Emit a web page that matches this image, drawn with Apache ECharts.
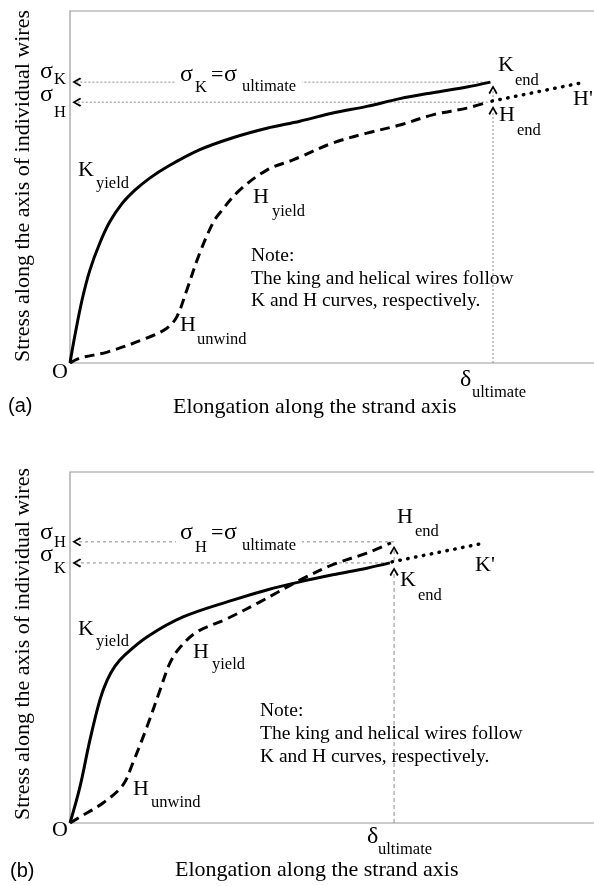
<!DOCTYPE html>
<html><head><meta charset="utf-8">
<script src="https://cdn.jsdelivr.net/npm/echarts@6/dist/echarts.min.js"></script>
<style>html,body{margin:0;padding:0;background:#fff}#c{width:594px;height:886px}</style>
</head><body><div id="c"></div>
<script>
// ---------- Panel (a) data (arbitrary units, x: elongation, y: stress) ----------
const kCurveA = [[0,0],[0.96,8.0],[2.3,17.9],[3.8,26.4],[5.7,34.1],[7.6,40.1],[9.9,45.2],[12.4,49.1],[15.3,52.6],[18.5,55.7],[24.8,60.6],[31.1,64.0],[37.6,66.7],[43.9,68.7],[50.2,71.0],[56.7,72.9],[63.0,75.1],[69.3,76.8],[75.8,78.4],[80.3,79.8]];
const hCurveA = [[0,0],[1.9,1.4],[7.1,3.1],[14.7,7.1],[18.5,9.9],[20.4,13.1],[22.3,20.7],[24.8,31.3],[27.3,39.8],[28.6,42.6],[32.4,49.1],[37.6,54.8],[42.6,57.7],[43.9,58.5],[50.2,62.5],[56.7,65.3],[63.0,67.6],[69.3,70.5],[75.8,72.4],[79.8,74.1]];
const hPrimeA = [[80.6,74.4],[98.4,79.8]];
// ---------- Panel (b) data ----------
const kCurveB = [[0,0],[1.9,10.3],[3.8,23.6],[5.7,35.0],[7.1,40.7],[8.6,44.7],[10.5,47.9],[14.7,53.0],[21.6,58.7],[31.1,63.5],[37.6,66.4],[43.9,68.7],[50.2,70.7],[56.7,72.6],[61.1,74.1]];
const hCurveB = [[0,0],[1.9,1.7],[6.3,5.7],[10.1,10.8],[12.0,17.1],[14.7,27.4],[17.2,37.9],[19.1,45.6],[21.0,50.0],[24.2,54.4],[30.0,58.2],[36.3,63.0],[39.5,65.6],[43.9,69.2],[50.2,73.6],[56.7,76.9],[61.3,79.8]];
const kPrimeB = [[61.5,74.4],[78.3,79.5]];
// levels / ultimate elongation
const sigmaA = {K: 79.8, H: 74.1};
const deltaUltA = 80.8;
const sigmaB = {H: 80.1, K: 74.1};
const deltaUltB = 61.9;

const SERIF = '"Liberation Serif", "Times New Roman", serif';
const SANS = '"Liberation Sans", Arial, sans-serif';
const ARROW_L = 'path://M0,5 L8.5,0 L10,1.6 L3.6,5 L10,8.4 L8.5,10 Z';
const ARROW_U = 'path://M5,0 L10,8.5 L8.4,10 L5,3.6 L1.6,10 L0,8.5 Z';

function curve(data, gi, type, width) {
  return {type:'line', xAxisIndex:gi, yAxisIndex:gi, data:data, showSymbol:false, symbol:'none',
    smooth:0.35, silent:true, animation:false, z:3,
    lineStyle:{color:'#000', width:width||3, type:type||'solid', cap:'butt'}};
}
function dotted(data, gi) {
  return {type:'line', xAxisIndex:gi, yAxisIndex:gi, data:data, showSymbol:false, symbol:'none',
    silent:true, animation:false, z:3,
    lineStyle:{color:'#000', width:3.5, type:[0.5,7.5], cap:'round'}};
}
function guide(gi, p0, p1, arrow, dash) {
  return {type:'line', xAxisIndex:gi, yAxisIndex:gi, silent:true, animation:false, showSymbol:true, symbol:'none', z:2,
    data:[{value:p0, symbol:'none'}, {value:p1, symbol:arrow, symbolSize:[9,9],
      itemStyle:{color:'#000', borderWidth:0}}],
    lineStyle:{color:'#8a8a8a', width:1, type:dash||[2,2]}};
}
function txt(x, base, s, size, fam) {
  return {type:'text', x:x, y:base - 0.34*size, z:100, silent:true,
    style:{text:s, font:size+'px '+(fam||SERIF), fill:'#000', textAlign:'left', textVerticalAlign:'middle', align:'left', verticalAlign:'middle'}};
}
function rect(x,y,w,h){ return {type:'rect', z:99, silent:true, shape:{x:x,y:y,width:w,height:h}, style:{fill:'#fff'}}; }

const M = 22, G = 24, S = 16.5, N = 19.5;
const graphics = [
  // ---- panel a ----
  rect(176,64,126,32),
  txt(40,80,'σ',G), txt(54,85,'K',S),
  txt(40,103,'σ',G), txt(54,118,'H',S),
  txt(180,83,'σ',G), txt(195,93,'K',S), txt(211,83,'=',M), txt(224,83,'σ',G), txt(242,92,'ultimate',S),
  txt(498,73,'K',M), txt(515,86,'end',S),
  txt(499,123,'H',M), txt(517,136,'end',S),
  txt(573,107,"H'",M),
  txt(78,178,'K',M), txt(96,189,'yield',S),
  txt(253,205,'H',M), txt(272,217,'yield',S),
  txt(180,333,'H',M), txt(197,345,'unwind',S),
  txt(52,380,'O',M),
  txt(8,413,'(a)',20,SANS),
  txt(173,415,'Elongation along the strand axis',M),
  txt(460,388,'δ',G), txt(472,398,'ultimate',S),
  txt(251,263,'Note:',N), txt(251,285.5,'The king and helical wires follow',N), txt(251,308,'K and H curves, respectively.',N),
  {type:'text', x:23, y:186, rotation:Math.PI/2, z:100, silent:true,
   style:{text:'Stress along the axis of individual wires', font:M+'px '+SERIF, fill:'#000', textAlign:'center', textVerticalAlign:'middle', align:'center', verticalAlign:'middle'}},
  // ---- panel b ----
  rect(176,522,126,33),
  txt(40,541,'σ',G), txt(54,548,'H',S),
  txt(40,563,'σ',G), txt(54,574,'K',S),
  txt(180,541,'σ',G), txt(195,553,'H',S), txt(211,541,'=',M), txt(224,541,'σ',G), txt(242,551,'ultimate',S),
  txt(397,525,'H',M), txt(415,537,'end',S),
  txt(400,588,'K',M), txt(418,601,'end',S),
  txt(475,573,"K'",M),
  txt(78,637,'K',M), txt(96,647,'yield',S),
  txt(193,660,'H',M), txt(212,670,'yield',S),
  txt(133,797,'H',M), txt(151,808,'unwind',S),
  txt(52,838,'O',M),
  txt(10,878,'(b)',20,SANS),
  txt(175,878,'Elongation along the strand axis',M),
  txt(367,845,'δ',G), txt(378,855,'ultimate',S),
  txt(260,718,'Note:',N), txt(260,741,'The king and helical wires follow',N), txt(260,764,'K and H curves, respectively.',N),
  {type:'text', x:23, y:644, rotation:Math.PI/2, z:100, silent:true,
   style:{text:'Stress along the axis of individual wires', font:M+'px '+SERIF, fill:'#000', textAlign:'center', textVerticalAlign:'middle', align:'center', verticalAlign:'middle'}}
];

const axisX = gi => ({type:'value', gridIndex:gi, min:0, max:102, show:false});
const axisY = gi => ({type:'value', gridIndex:gi, min:0, max:100, show:false});
const lastX = a => a[a.length-1][0];

const option = {
  animation:false,
  backgroundColor:'#fff',
  grid:[
    {left:70, top:11, width:534, height:352, outerBoundsMode:'none', containLabel:false, show:true, borderColor:'#9a9a9a', borderWidth:1.2, backgroundColor:'transparent'},
    {left:70, top:472, width:534, height:351, outerBoundsMode:'none', containLabel:false, show:true, borderColor:'#9a9a9a', borderWidth:1.2, backgroundColor:'transparent'}
  ],
  xAxis:[axisX(0), axisX(1)],
  yAxis:[axisY(0), axisY(1)],
  series:[
    // panel a guides
    guide(0,[lastX(kCurveA),sigmaA.K],[1.3,sigmaA.K],ARROW_L),
    guide(0,[lastX(hCurveA),sigmaA.H],[1.3,sigmaA.H],ARROW_L),
    guide(0,[deltaUltA,0],[deltaUltA,71.7],ARROW_U),
    guide(0,[deltaUltA,74.4],[deltaUltA,77.6],ARROW_U),
    curve(kCurveA,0,'solid',3),
    curve(hCurveA,0,[10,6],3),
    dotted(hPrimeA,0),
    // panel b guides
    guide(1,[lastX(hCurveB)+0.6,sigmaB.H],[1.3,sigmaB.H],ARROW_L,[3,3]),
    guide(1,[lastX(kCurveB),sigmaB.K],[1.3,sigmaB.K],ARROW_L,[3,3]),
    guide(1,[deltaUltB,0],[deltaUltB,71.6],ARROW_U,[4,3]),
    guide(1,[deltaUltB,74.6],[deltaUltB,77.7],ARROW_U,[4,3]),
    curve(kCurveB,1,'solid',3),
    curve(hCurveB,1,[10,6],3),
    dotted(kPrimeB,1)
  ],
  graphic: graphics
};
const chart = echarts.init(document.getElementById('c'), null, {renderer:'canvas'});
chart.setOption(option);
</script></body></html>
